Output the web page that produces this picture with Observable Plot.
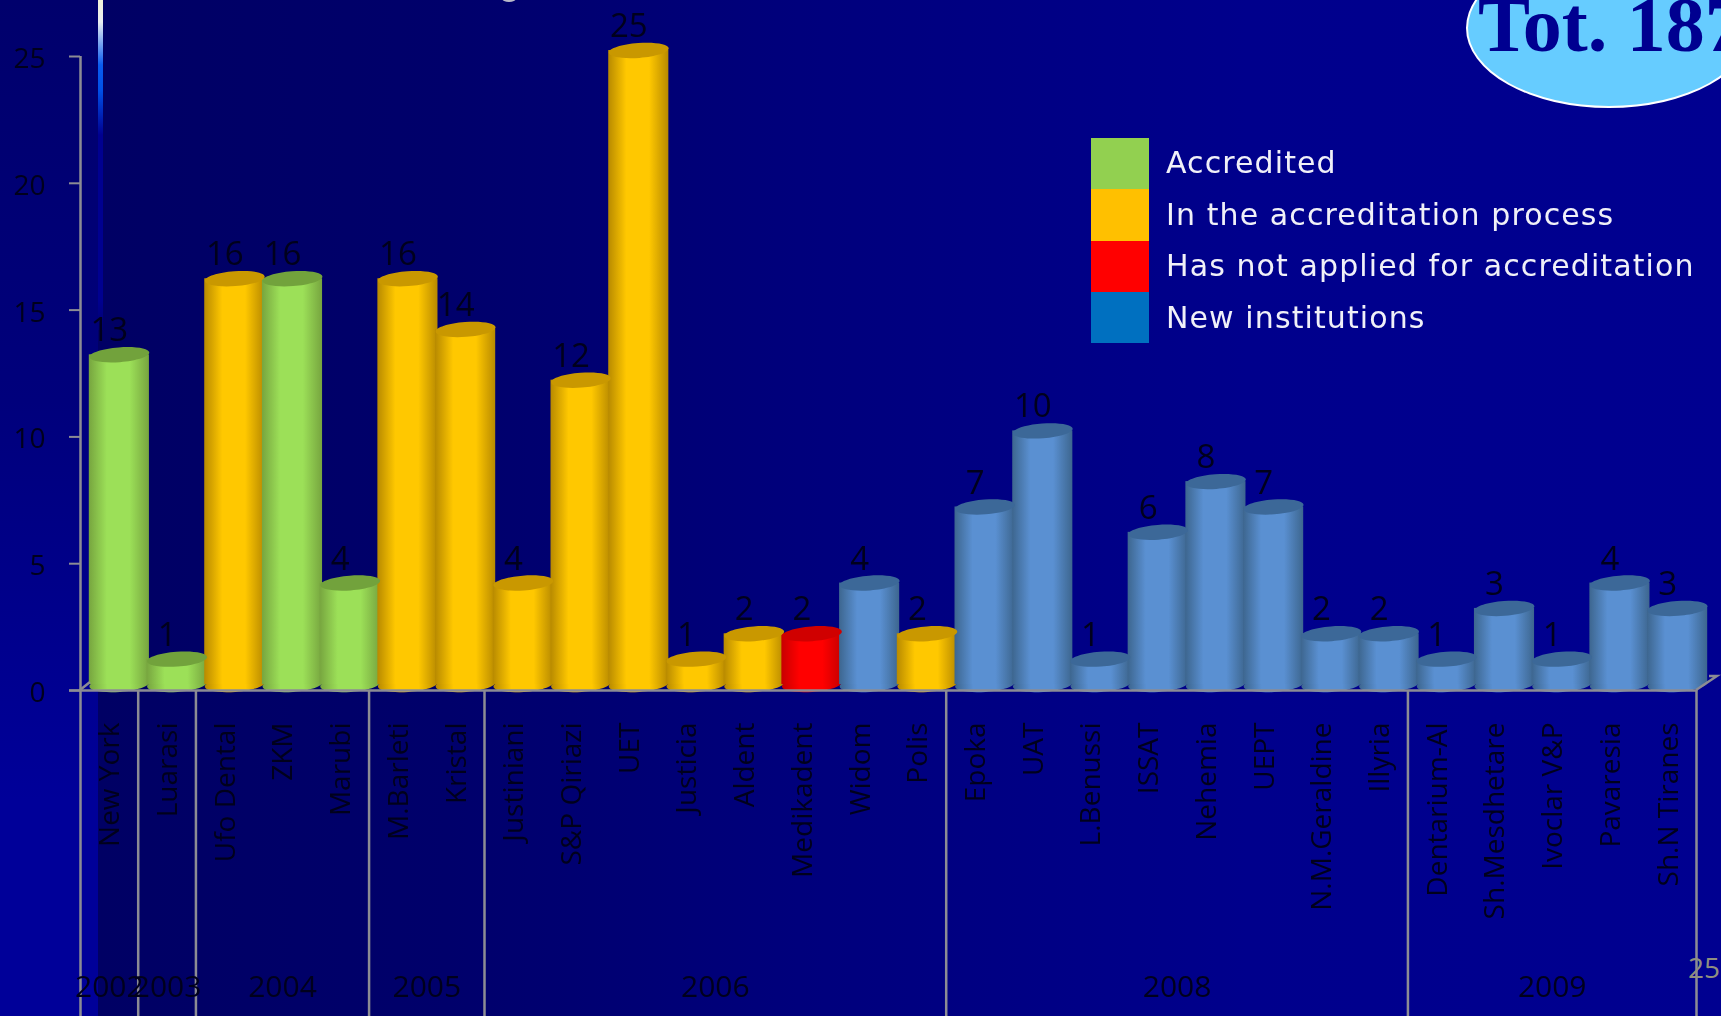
<!DOCTYPE html>
<html>
<head>
<meta charset="utf-8">
<script src="https://cdn.jsdelivr.net/npm/d3@7"></script>
<script src="https://cdn.jsdelivr.net/npm/@observablehq/plot@0.6"></script>
<style>
html,body{margin:0;padding:0;width:1721px;height:1016px;overflow:hidden;background:#000090;}
#bg{position:absolute;left:98px;top:0;width:1623px;height:1016px;background:linear-gradient(to right,#000064 0,#00006b 350px,#00007c 700px,#00008c 1150px,#000090 1623px);}
#bgl{position:absolute;left:0;top:0;width:98px;height:1016px;background:linear-gradient(to bottom,#00006c 0,#00007c 400px,#000099 800px);}
#streak{position:absolute;left:98px;top:0;width:5px;height:330px;background:linear-gradient(to bottom,#f2f2d8 0,#e8ecf0 22px,#0a5cf0 65px,#0050e8 90px,#000090 135px,#000090 300px,#000070 330px);}
#chart{position:absolute;left:0;top:0;filter:blur(0.6px);}
#corner{position:absolute;left:0;top:0;filter:blur(0.4px);}
#tot{position:absolute;left:1466px;top:-52px;width:286px;height:160px;box-sizing:border-box;border:2px solid #fff;border-radius:50%;background:#66ccff;}
#totText{position:absolute;left:1478px;top:-14px;font:bold 78px/1 "Liberation Serif",serif;color:#000090;white-space:nowrap;}
.sw{position:absolute;left:1091px;width:58px;height:51.3px;}
.lg{position:absolute;left:1166px;font:30px/1 "DejaVu Sans",sans-serif;letter-spacing:1.1px;color:#f0f0f8;white-space:nowrap;filter:blur(0.6px);}
#pg{position:absolute;left:1688px;top:953px;font:28px/1 "Open Sans",sans-serif;color:#8f8f80;}
#speck{position:absolute;left:502px;top:-5px;width:14px;height:7px;border-radius:50%;background:#b9b9c9;}
</style>
</head>
<body>
<div id="bgl"></div><div id="bg"></div><div id="streak"></div><div id="speck"></div>
<div id="chart"></div>
<svg id="corner" width="1721" height="1016"><path d="M1696 690L1717 676L1709 676M80 690L90 682" fill="none" stroke="#8c8c94" stroke-width="2.5"/></svg>
<div id="tot"></div><div id="totText">Tot. 187</div>
<div id="pg">25</div>
<div id="legend"></div>
<script>
const names = ["New York","Luarasi","Ufo Dental","ZKM","Marubi","M.Barleti","Kristal","Justiniani","S&P Qiriazi","UET","Justicia","Aldent","Medikadent","Widom","Polis","Epoka","UAT","L.Benussi","ISSAT","Nehemia","UEPT","N.M.Geraldine","Illyria","Dentarium-Al","Sh.Mesdhetare","Ivoclar V&P","Pavaresia","Sh.N Tiranes"];
const values = [13,1,16,16,4,16,14,4,12,25,1,2,2,4,2,7,10,1,6,8,7,2,2,1,3,1,4,3];
const statuses = ["A","A","P","A","A","P","P","P","P","P","P","P","N","W","P","W","W","W","W","W","W","W","W","W","W","W","W","W"];
const years = ["2002","2003","2004","2005","2006","2008","2009"];
const yearCounts = [1,1,3,2,8,8,5];
const legendLabels = ["Accredited","In the accreditation process","Has not applied for accreditation","New institutions"];
const legendColors = ["#92d050","#ffc000","#ff0000","#0070c0"];
const yTicks = [0,5,10,15,20,25];

const barStyle = {
  A:{grad:"gA",edge:"#77a53f",mid:"#9ce058",top:"#72a23c"},
  P:{grad:"gP",edge:"#b88a00",mid:"#ffc800",top:"#c99800"},
  N:{grad:"gN",edge:"#c80000",mid:"#ff0000",top:"#d00000"},
  W:{grad:"gW",edge:"#3d668f",mid:"#5a90d2",top:"#3c6898"}
};
const rows = names.map((name,i)=>({name,value:values[i],status:statuses[i]}));

let start=0;
const groups = years.map((year,i)=>{
  const g={year,first:names[start],n:yearCounts[i],mid:names[start+Math.floor(yearCounts[i]/2)]};
  start+=yearCounts[i];
  return g;
});

const W=1721,H=1016,ml=80,mr=25,mt=56,mb=326;
const bw=(W-ml-mr)/names.length;

// tilted ellipse, used as the cylinder cap
const rx=30, ry=7.4, tilt=-0.075;
const capSymbol={draw(ctx){
  const k=0.5523, c=Math.cos(tilt), s=Math.sin(tilt);
  const P=(x,y)=>[x*c-y*s,x*s+y*c];
  const seg=(a,b,d)=>ctx.bezierCurveTo(...P(...a),...P(...b),...P(...d));
  ctx.moveTo(...P(rx,0));
  seg([rx,k*ry],[k*rx,ry],[0,ry]);
  seg([-k*rx,ry],[-rx,k*ry],[-rx,0]);
  seg([-rx,-k*ry],[-k*rx,-ry],[0,-ry]);
  seg([k*rx,-ry],[rx,-k*ry],[rx,0]);
  ctx.closePath();
}};

const defs=()=>{
  const svg=d3.create("svg:g");
  const d=svg.append("defs");
  for(const key of Object.keys(barStyle)){
    const s=barStyle[key];
    const g=d.append("linearGradient").attr("id",s.grad).attr("x1",0).attr("x2",1).attr("y1",0).attr("y2",0);
    [[0,s.edge],[0.3,s.mid],[0.68,s.mid],[1,s.edge]].forEach(([o,c])=>g.append("stop").attr("offset",o).attr("stop-color",c));
  }
  return svg.node();
};

const ink="#00001c", grey="#8c8c94", font="Open Sans";
const plot=Plot.plot({
  width:W,height:H,marginLeft:ml,marginRight:mr,marginTop:mt,marginBottom:mb,
  style:{background:"transparent",overflow:"visible"},
  x:{type:"band",domain:names,padding:0,round:false,label:null},
  y:{domain:[0,25],label:null},
  color:{type:"identity"},
  marks:[
    defs,
    Plot.dot(rows,{x:"name",y:0,dx:10,dy:-6,symbol:capSymbol,r:1,fill:d=>`url(#${barStyle[d.status].grad})`}),
    Plot.barY(rows,{x:"name",y:"value",dx:10,dy:-6,insetLeft:-1.2,insetRight:-1.2,fill:d=>`url(#${barStyle[d.status].grad})`}),
    Plot.dot(rows,{x:"name",y:"value",dx:10,dy:-6,symbol:capSymbol,r:1,fill:d=>barStyle[d.status].top}),
    Plot.ruleY([0],{stroke:grey,strokeWidth:2.5,insetLeft:-11}),
    Plot.ruleX([names[0]],{y1:0,y2:25,dx:-bw/2,stroke:grey,strokeWidth:2.5}),
    Plot.ruleX(groups,{x:"first",y1:0,y2:-12.86,dx:-bw/2,stroke:grey,strokeWidth:2.5}),
    Plot.ruleX([names[names.length-1]],{y1:0,y2:-12.86,dx:bw/2,stroke:grey,strokeWidth:2.5}),
    Plot.axisY({ticks:yTicks,tickSize:11,stroke:grey,strokeWidth:2,fill:"none",label:null}),
    Plot.axisY({ticks:yTicks,tickSize:0,tickPadding:35,dy:2.5,stroke:"none",fontSize:28,fill:ink,fontFamily:font,label:null}),
    Plot.axisX({tickSize:0,tickRotate:-90,tickPadding:32,dx:1,fontSize:28,fill:ink,fontFamily:font,label:null,lineAnchor:"middle"}),
    Plot.text(rows,{x:"name",y:"value",text:d=>String(d.value),dy:-30,fontSize:33,fill:ink,fontFamily:font}),
    Plot.text(groups.filter(g=>g.n%2===1),{x:"mid",y:-11.7,text:"year",fontSize:30,fill:ink,fontFamily:font}),
    Plot.text(groups.filter(g=>g.n%2===0),{x:"mid",y:-11.7,text:"year",dx:-bw/2,fontSize:30,fill:ink,fontFamily:font})
  ]
});
document.getElementById("chart").append(plot);

const lg=document.getElementById("legend");
legendLabels.forEach((t,i)=>{
  const sw=document.createElement("div");sw.className="sw";sw.style.top=(138+i*51.3)+"px";sw.style.background=legendColors[i];lg.append(sw);
  const tx=document.createElement("div");tx.className="lg";tx.textContent=t;tx.style.top=(148+i*51.5)+"px";lg.append(tx);
});
</script>
</body>
</html>
